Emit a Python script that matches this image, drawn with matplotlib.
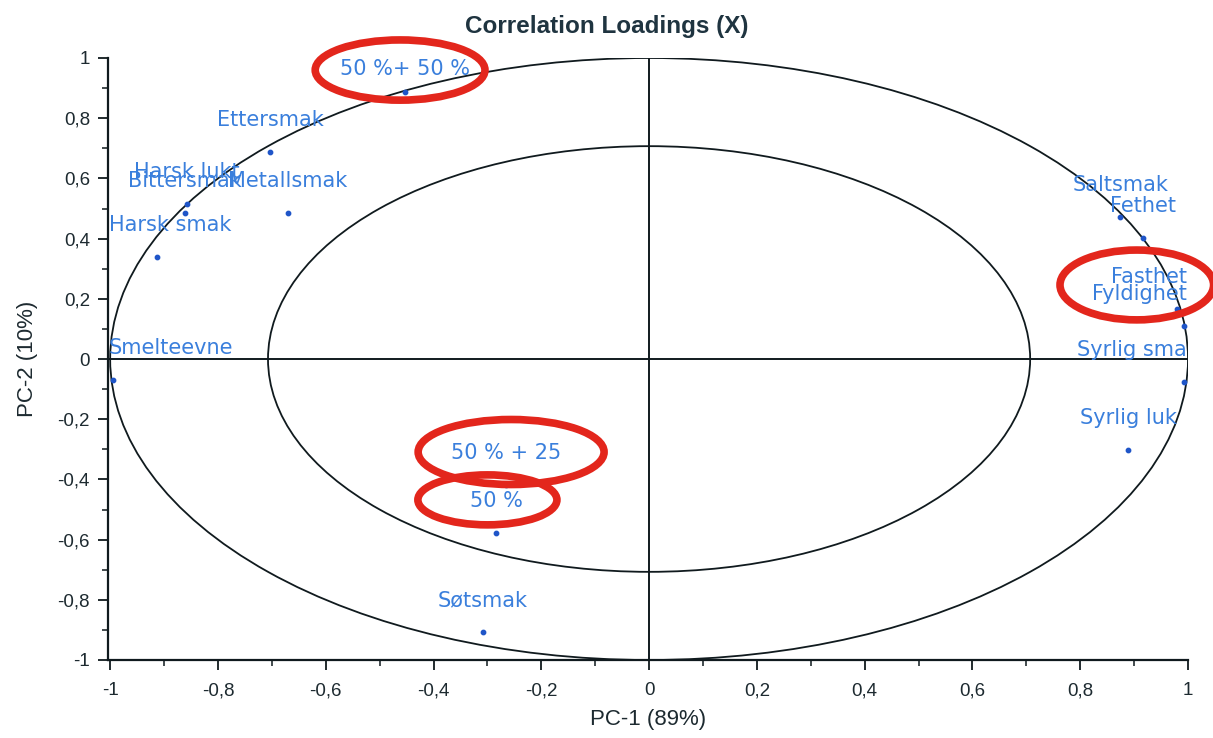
import numpy as np
import matplotlib
matplotlib.use("Agg")
import matplotlib.pyplot as plt
from matplotlib.patches import Ellipse
from matplotlib.ticker import MultipleLocator, FuncFormatter

plt.rcParams['font.family'] = ['Liberation Sans', 'DejaVu Sans']

# PCA correlation loadings (PC-1, PC-2); variable names are cut to 10 characters
labels = ["50 %+ 50 %", "Ettersmak", "Harsk lukt", "Bittersmak", "Metallsmak",
          "Harsk smak", "Smelteevne", "Saltsmak", "Fethet", "Fasthet",
          "Fyldighet", "Syrlig sma", "Syrlig luk", "50 % + 25", "50 %", "Søtsmak"]
pc1 = [-0.453, -0.703, -0.858, -0.861, -0.670, -0.913, -0.994, 0.874, 0.917,
       0.980, 0.993, 0.993, 0.889, -0.265, -0.284, -0.308]
pc2 = [0.887, 0.688, 0.515, 0.485, 0.485, 0.339, -0.070, 0.472, 0.402,
       0.166, 0.110, -0.076, -0.302, -0.420, -0.578, -0.907]

# Highlighted groups: (centre x, centre y, width, height) in loading units
highlight_cx = [-0.462, 0.905, -0.256, -0.300]
highlight_cy = [0.960, 0.246, -0.309, -0.468]
highlight_w = [0.315, 0.285, 0.345, 0.258]
highlight_h = [0.200, 0.232, 0.216, 0.166]

x_ticks = np.round(np.arange(-1.0, 1.01, 0.2), 1)
y_ticks = np.round(np.arange(-1.0, 1.01, 0.2), 1)

W, H = 1213, 738
fig = plt.figure(figsize=(W / 100, H / 100), dpi=100)
ax = fig.add_axes([108 / W, 1 - 660 / H, (1188 - 108) / W, (660 - 58) / H])
ax.set_xlim(-1.004, 1.0)
ax.set_ylim(-1.0, 1.0)

line_col = "#101a1e"
text_col = "#1d2a30"
# 100% and 50% explained variance ellipses
for r in (1.0, np.sqrt(0.5)):
    ax.add_patch(Ellipse((0, 0), 2 * r, 2 * r, fill=False, ec=line_col, lw=1.3))
ax.axhline(0, color=line_col, lw=1.4)
ax.axvline(0, color=line_col, lw=1.4)

for s in ("top", "right"):
    ax.spines[s].set_visible(False)
for s in ("left", "bottom"):
    ax.spines[s].set_color(line_col)
    ax.spines[s].set_linewidth(1.6)


def comma_fmt(v, pos):
    v = round(v, 1)
    if abs(v) < 1e-9:
        v = 0.0
    return ("%g" % v).replace(".", ",")


ax.set_xticks(x_ticks)
ax.set_yticks(y_ticks)
ax.xaxis.set_minor_locator(MultipleLocator(0.1))
ax.yaxis.set_minor_locator(MultipleLocator(0.1))
ax.xaxis.set_major_formatter(FuncFormatter(comma_fmt))
ax.yaxis.set_major_formatter(FuncFormatter(comma_fmt))
ax.tick_params(which="major", length=7, width=1.3, color=line_col,
               labelsize=13.5, labelcolor=text_col, pad=6)
ax.tick_params(axis="x", which="major", pad=9)
ax.tick_params(which="minor", length=4, width=1.1, color=line_col)

fig.text(0.5, 1 - 27 / H, "Correlation Loadings (X)", fontsize=17.5,
         fontweight="bold", color="#1f3440", ha="center", va="center")
ax.set_xlabel("PC-1 (89%)", fontsize=16, color=text_col, labelpad=7)
ax.set_ylabel("PC-2 (10%)", fontsize=16, color=text_col, labelpad=14)

# Loading points
ax.scatter(pc1, pc2, s=10, color="#1f55c8", zorder=4, clip_on=False)

# Point labels, centred above each point and kept inside the plot region
fig.canvas.draw()
renderer = fig.canvas.get_renderer()
ax_box = ax.get_window_extent(renderer)
texts = []
for lab, x, y in zip(labels, pc1, pc2):
    t = ax.annotate(lab, (x, y), xytext=(0, 23), textcoords="offset points",
                    ha="center", va="center", fontsize=15, color="#3a7fdc",
                    family=["DejaVu Sans"], zorder=5, annotation_clip=False)
    texts.append(t)
fig.canvas.draw()
for t in texts:
    bb = t.get_window_extent(renderer)
    dx = dy = 0.0
    if bb.x0 < ax_box.x0 + 1:
        dx = ax_box.x0 + 1 - bb.x0
    elif bb.x1 > ax_box.x1 - 1:
        dx = ax_box.x1 - 1 - bb.x1
    if bb.y1 > ax_box.y1 - 1:
        dy = ax_box.y1 - 1 - bb.y1
    if dx or dy:
        ox, oy = t.xyann
        t.xyann = (ox + dx * 72 / fig.dpi, oy + dy * 72 / fig.dpi)

# Red highlight rings around selected samples
for cx, cy, w, h in zip(highlight_cx, highlight_cy, highlight_w, highlight_h):
    ax.add_patch(Ellipse((cx, cy), w, h, fill=False, ec="#e3261c", lw=5.5,
                         zorder=6, clip_on=False))

fig.savefig("out.png", dpi=100, facecolor="white")
